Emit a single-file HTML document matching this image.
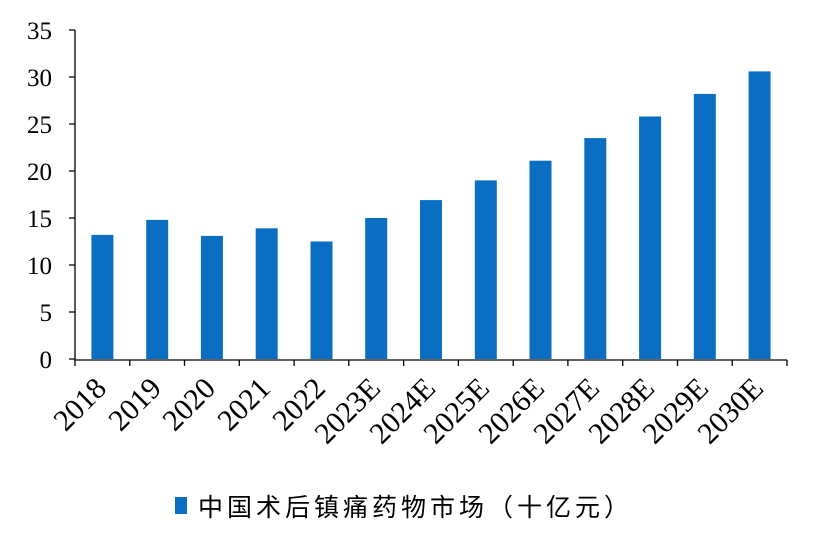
<!DOCTYPE html>
<html><head><meta charset="utf-8"><style>body{margin:0;background:#fff}</style></head><body>
<svg width="817" height="544" xmlns="http://www.w3.org/2000/svg" font-family="Liberation Serif, serif">
<g font-size="25" text-anchor="end" fill="#000">
<text x="52" y="368">0</text><text x="52" y="321">5</text><text x="52" y="274">10</text><text x="52" y="227">15</text><text x="52" y="180">20</text><text x="52" y="133">25</text><text x="52" y="86">30</text><text x="52" y="39">35</text>
</g>
<g fill="#0a6fc2">
<rect x="91.4" y="234.9" width="22" height="124.1"/>
<rect x="146.2" y="219.9" width="22" height="139.1"/>
<rect x="200.9" y="235.9" width="22" height="123.1"/>
<rect x="255.7" y="228.3" width="22" height="130.7"/>
<rect x="310.5" y="241.5" width="22" height="117.5"/>
<rect x="365.2" y="218" width="22" height="141"/>
<rect x="420" y="200.1" width="22" height="158.9"/>
<rect x="474.8" y="180.4" width="22" height="178.6"/>
<rect x="529.5" y="160.7" width="22" height="198.3"/>
<rect x="584.3" y="138.1" width="22" height="220.9"/>
<rect x="639.1" y="116.5" width="22" height="242.5"/>
<rect x="693.8" y="93.9" width="22" height="265.1"/>
<rect x="748.6" y="71.4" width="22" height="287.6"/>
</g>
<g stroke="#000" stroke-width="1.3" fill="none">
<path d="M75,30V360H787"/>
<path d="M69,30H75M69,77H75M69,124H75M69,171H75M69,218H75M69,265H75M69,312H75M69,359H75"/>
<path d="M75,360v6M129.8,360v6M184.5,360v6M239.3,360v6M294.1,360v6M348.8,360v6M403.6,360v6M458.4,360v6M513.2,360v6M567.9,360v6M622.7,360v6M677.5,360v6M732.2,360v6M787,360v6"/>
</g>
<g font-size="30" fill="#000" text-anchor="end">
<text transform="translate(108,390) rotate(-45)">2018</text>
<text transform="translate(163,390) rotate(-45)">2019</text>
<text transform="translate(217,390) rotate(-45)">2020</text>
<text transform="translate(272,390) rotate(-45)">2021</text>
<text transform="translate(327,390) rotate(-45)">2022</text>
<text transform="translate(382,390) rotate(-45)">2023E</text>
<text transform="translate(437,390) rotate(-45)">2024E</text>
<text transform="translate(491,390) rotate(-45)">2025E</text>
<text transform="translate(546,390) rotate(-45)">2026E</text>
<text transform="translate(601,390) rotate(-45)">2027E</text>
<text transform="translate(656,390) rotate(-45)">2028E</text>
<text transform="translate(710,390) rotate(-45)">2029E</text>
<text transform="translate(765,390) rotate(-45)">2030E</text>
</g>
<rect x="175" y="497" width="12" height="17" fill="#0a6fc2"/>
<text x="198" y="516" font-size="25" font-family="Liberation Sans, Noto Sans CJK SC, sans-serif" letter-spacing="4">中国术后镇痛药物市场（十亿元）</text>
</svg>
</body></html>
